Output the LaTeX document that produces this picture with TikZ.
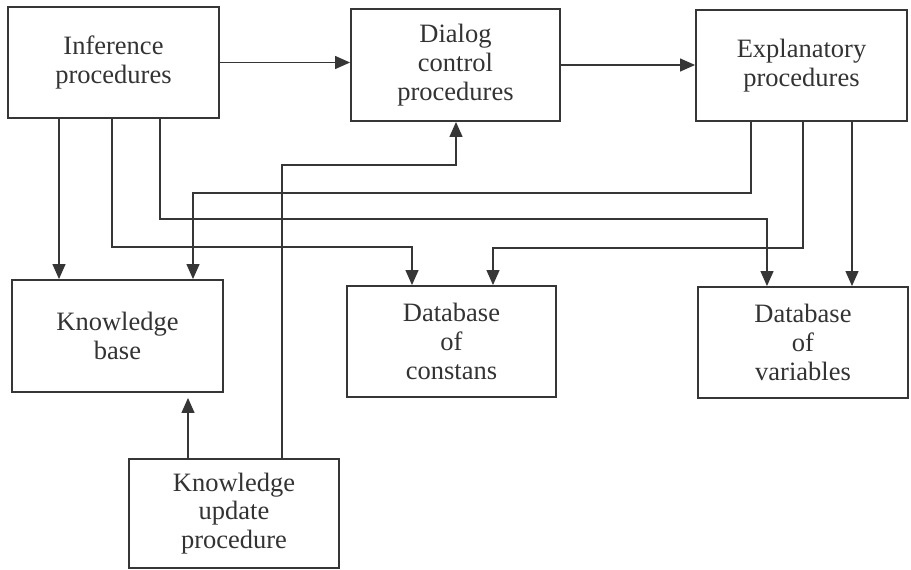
\documentclass[tikz,border=0pt]{standalone}
\usepackage{fontspec}
\setmainfont{Liberation Serif}
\usetikzlibrary{arrows.meta}
\definecolor{ink}{HTML}{363636}
\definecolor{txt}{HTML}{333333}
\begin{document}
\begin{tikzpicture}[x=1pt,y=-1pt,
  box/.style={draw=ink, line width=1.9pt, inner sep=0pt, align=center, text=txt,
    font=\fontsize{26.5pt}{28.7pt}\selectfont},
  arr/.style={draw=ink, line width=1.3pt, -{Triangle[width=13pt,length=15pt]}}]
\useasboundingbox (0,0) rectangle (911,570);
\node[box, minimum width=211pt, minimum height=111pt] (inf) at (113.5,62.5) {Inference\\procedures};
\node[box, minimum width=209pt, minimum height=112pt] (dial) at (455.5,65) {Dialog\\control\\procedures};
\node[box, minimum width=211pt, minimum height=111pt] (exp) at (801.5,65.5) {Explanatory\\procedures};
\node[box, minimum width=211pt, minimum height=112pt] (kb) at (117.5,336) {Knowledge\\base};
\node[box, minimum width=209pt, minimum height=111pt] (dbc) at (451.5,341.5) {Database\\of\\constans};
\node[box, minimum width=210pt, minimum height=111pt] (dbv) at (803,342.5) {Database\\of\\variables};
\node[box, minimum width=210pt, minimum height=109pt] (ku) at (234,513.5) {Knowledge\\update\\procedure};
% bend points
\coordinate (c1) at (59,200);
\coordinate (c2a) at (112,247);
\coordinate (c2b) at (412,247);
\coordinate (c3a) at (160,219);
\coordinate (c3b) at (767,219);
\coordinate (c4a) at (751,193);
\coordinate (c4b) at (193,193);
\coordinate (c5a) at (803,248);
\coordinate (c5b) at (493,248);
\coordinate (c6) at (852,200);
\coordinate (c7) at (188,430);
\coordinate (c8a) at (282,165);
\coordinate (c8b) at (456,165);
% connectors
\draw[arr] (inf.east) -- (inf.east -| dial.west);
\draw[arr] (dial.east) -- (dial.east -| exp.west);
\draw[arr] (inf.south -| c1) -- (kb.north -| c1);
\draw[arr] (inf.south -| c2a) -- (c2a) -- (c2b) -- (c2b |- dbc.north);
\draw[arr] (inf.south -| c3a) -- (c3a) -- (c3b) -- (c3b |- dbv.north);
\draw[arr] (exp.south -| c4a) -- (c4a) -- (c4b) -- (c4b |- kb.north);
\draw[arr] (exp.south -| c5a) -- (c5a) -- (c5b) -- (c5b |- dbc.north);
\draw[arr] (exp.south -| c6) -- (dbv.north -| c6);
\draw[arr, shorten >=5pt] (ku.north -| c7) -- (kb.south -| c7);
\draw[arr] (ku.north -| c8a) -- (c8a) -- (c8b) -- (c8b |- dial.south);
\end{tikzpicture}
\end{document}
